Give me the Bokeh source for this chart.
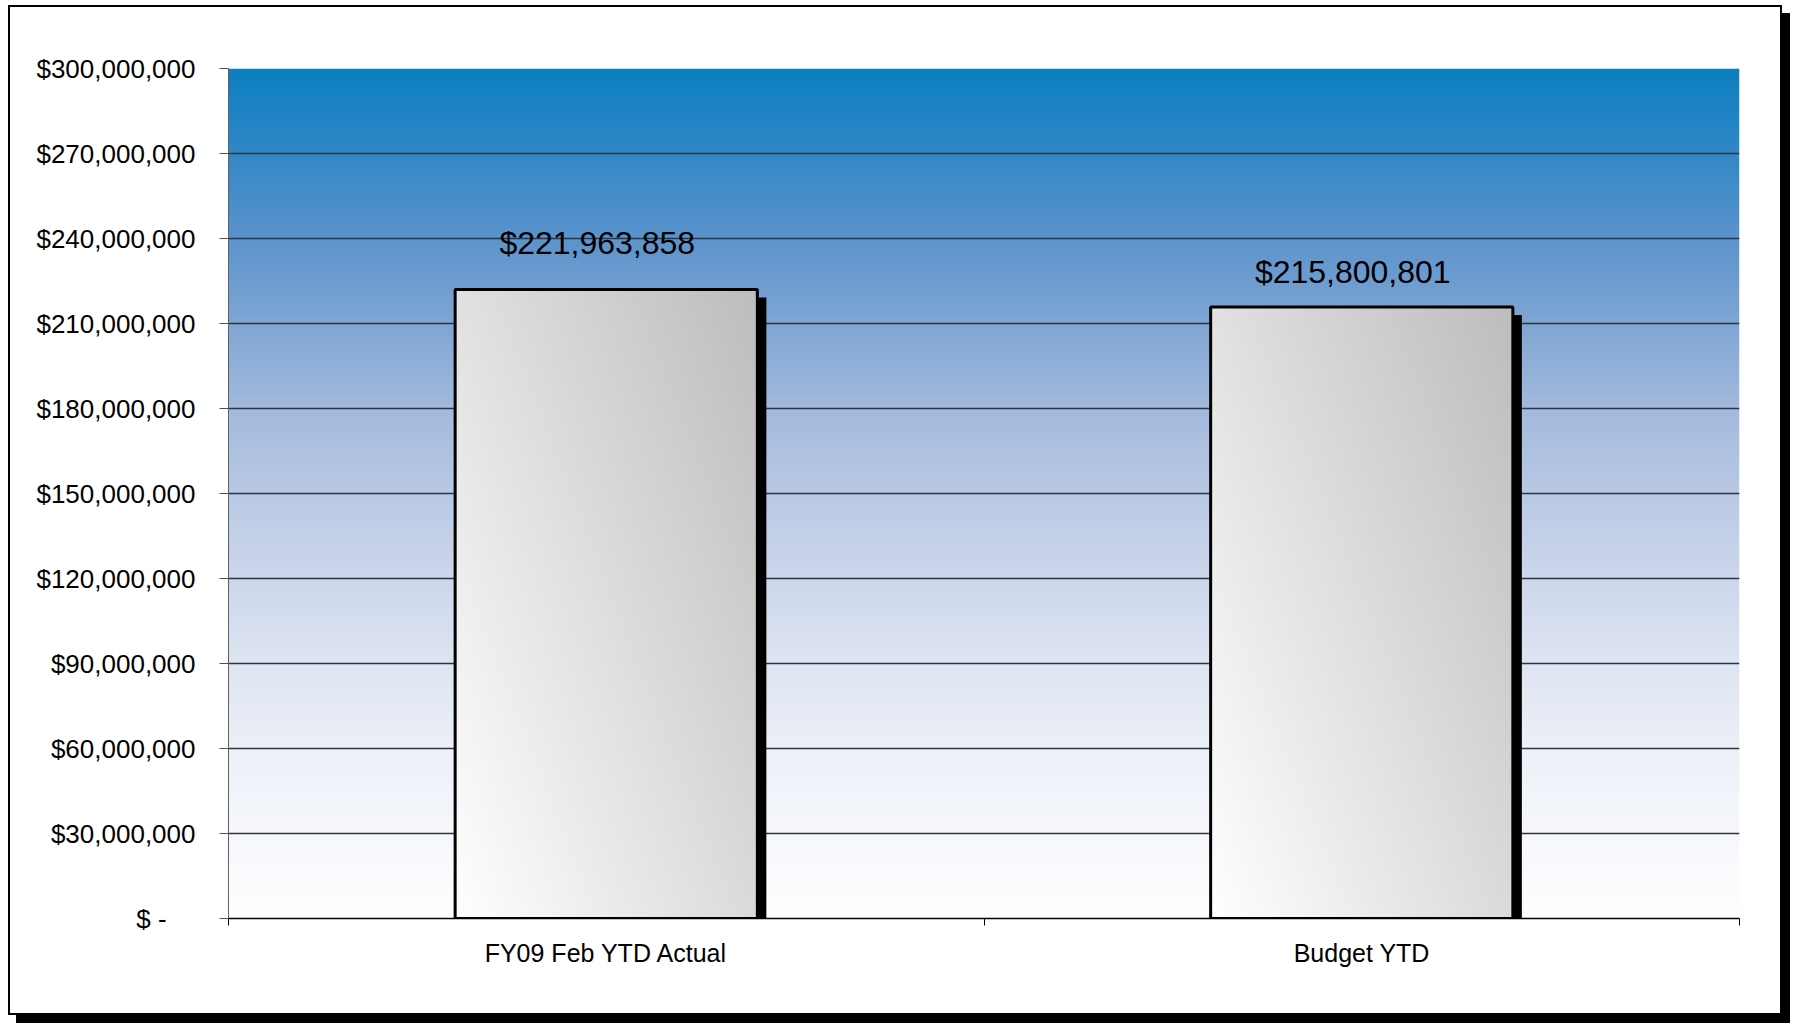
import numpy as np
from bokeh.plotting import figure
from bokeh.models import Range1d, FixedTicker, ColumnDataSource
from bokeh.core.properties import value
from bokeh.embed import file_html
from bokeh.resources import INLINE

# ---------------- data ----------------
CATEGORIES = ["FY09 Feb YTD Actual", "Budget YTD"]
VALUES = [221963858, 215800801]
VALUE_LABELS = ["$221,963,858", "$215,800,801"]
Y_TICKS = [0, 30000000, 60000000, 90000000, 120000000, 150000000,
           180000000, 210000000, 240000000, 270000000, 300000000]
Y_TICK_LABELS = ["$ -\u00a0\u00a0\u00a0\u00a0", "$30,000,000", "$60,000,000", "$90,000,000",
                 "$120,000,000", "$150,000,000", "$180,000,000", "$210,000,000",
                 "$240,000,000", "$270,000,000", "$300,000,000"]
Y_MAX = 300000000

# ---------------- style ----------------
FONT = "Liberation Sans"
W, H = 1774, 1010
B_LEFT, B_RIGHT, B_TOP, B_BOTTOM = 218, 45, 61, 99
FRAME_W = W - B_LEFT - B_RIGHT
FRAME_H = H - B_TOP - B_BOTTOM
BAR_W = 0.4
N = len(CATEGORIES)
X_POS = [i + 0.5 for i in range(N)]          # category slot centres
SLOT_EDGES = [float(i) for i in range(N + 1)]
PX_X = N / FRAME_W                            # data units per pixel (x)
PX_Y = Y_MAX / FRAME_H                        # data units per pixel (y)
SHADOW_DX = 9 * PX_X
SHADOW_DY = 8 * PX_Y
LABEL_DY = [-47, -35]                         # label lift above bar top (px)


def rgba_image(r, g, b):
    h, w = r.shape
    img = np.empty((h, w), dtype=np.uint32)
    v = img.view(dtype=np.uint8).reshape((h, w, 4))
    v[:, :, 0] = r
    v[:, :, 1] = g
    v[:, :, 2] = b
    v[:, :, 3] = 255
    return img


# background vertical gradient (row 0 = bottom)
ny = FRAME_H
pos = [0.0, 0.1, 0.2, 0.3, 0.4, 0.5, 0.6, 0.7, 0.8, 0.9, 1.0]   # from top
cols = [(12, 127, 193), (50, 136, 198), (92, 148, 204), (128, 166, 212),
        (163, 186, 221), (185, 201, 229), (205, 215, 236), (222, 229, 242),
        (236, 240, 247), (246, 248, 252), (255, 255, 255)]
t_top = 1.0 - np.linspace(0, 1, ny)
chan = [np.interp(t_top, pos, [c[k] for c in cols]) for k in range(3)]
bg = rgba_image(*[np.repeat(c[:, None], 2, axis=1).astype(np.uint8) for c in chan])

# bar diagonal gradient (white bottom-left -> grey top-right)
bh, bw = 200, 100
u = np.linspace(0, 1, bw)[None, :]
vv = np.linspace(0, 1, bh)[:, None]
tt = np.clip(0.55 * u + 0.45 * vv, 0, 1)
g = (255 - 66 * tt).astype(np.uint8)
bar_img = rgba_image(g, g, g)

src = ColumnDataSource(data=dict(
    x=X_POS,
    cat=CATEGORIES,
    val=VALUES,
    img_x=[x - BAR_W / 2 for x in X_POS],
    sh_x=[x + SHADOW_DX for x in X_POS],
    shadow_top=[v - SHADOW_DY for v in VALUES],
    label=VALUE_LABELS,
    label_dy=LABEL_DY,
    image=[bar_img for _ in CATEGORIES],
))

p = figure(width=W, height=H,
           x_range=Range1d(0, N), y_range=Range1d(0, Y_MAX),
           x_axis_location="below", y_axis_location="left",
           output_backend="svg", toolbar_location=None, tools="",
           min_border_left=B_LEFT, min_border_right=B_RIGHT,
           min_border_top=B_TOP, min_border_bottom=B_BOTTOM)
p.outline_line_color = None
p.background_fill_color = "white"
p.border_fill_color = "white"
p.styles = {"border": "2px solid black", "box-shadow": "8px 8px 0px 0px black",
            "margin-left": "8px", "margin-top": "5px"}

# background
p.image_rgba(image=[bg], x=0, y=0, dw=N, dh=Y_MAX, level="image")

# y axis
yax = p.yaxis[0]
yax.ticker = FixedTicker(ticks=Y_TICKS)
yax.major_label_overrides = dict(zip(Y_TICKS, Y_TICK_LABELS))
yax.major_label_text_font = FONT
yax.major_label_text_font_size = "26px"
yax.major_label_text_color = "black"
yax.major_tick_in = 0
yax.major_tick_out = 9
yax.major_tick_line_color = "#505050"
yax.minor_tick_line_color = None
yax.axis_line_color = "#606060"
yax.axis_line_width = 1
yax.major_label_standoff = 24

p.ygrid.ticker = FixedTicker(ticks=Y_TICKS)
p.ygrid.grid_line_color = "#2e3440"
p.ygrid.grid_line_width = 1.5
p.xgrid.visible = False

# x axis: labels at slot centres, ticks at slot boundaries
xax = p.xaxis[0]
xax.ticker = FixedTicker(ticks=X_POS, minor_ticks=SLOT_EDGES)
xax.major_label_overrides = dict(zip(X_POS, CATEGORIES))
xax.major_label_text_font = FONT
xax.major_label_text_font_size = "25px"
xax.major_label_text_color = "black"
xax.major_tick_in = 0
xax.major_tick_out = 0
xax.major_tick_line_color = None
xax.minor_tick_in = 0
xax.minor_tick_out = 7
xax.minor_tick_line_color = "black"
xax.axis_line_color = "black"
xax.axis_line_width = 1.5
xax.major_label_standoff = 13

# bars: shadow, gradient fill, outline
p.vbar(x="sh_x", top="shadow_top", bottom=0, width=BAR_W,
       fill_color="black", line_color=None, source=src)
p.image_rgba(image="image", x="img_x", y=0, dw=BAR_W, dh="val", source=src)
p.vbar(x="x", top="val", bottom=0, width=BAR_W, fill_color=None,
       line_color="black", line_width=3, source=src)

# data labels
p.text(x="x", y="val", text="label", source=src, x_offset=-9, y_offset="label_dy",
       text_font=value(FONT), text_font_size="32px", text_color="black",
       text_align="center", text_baseline="alphabetic")

open("out.html", "w").write(file_html(p, INLINE))
